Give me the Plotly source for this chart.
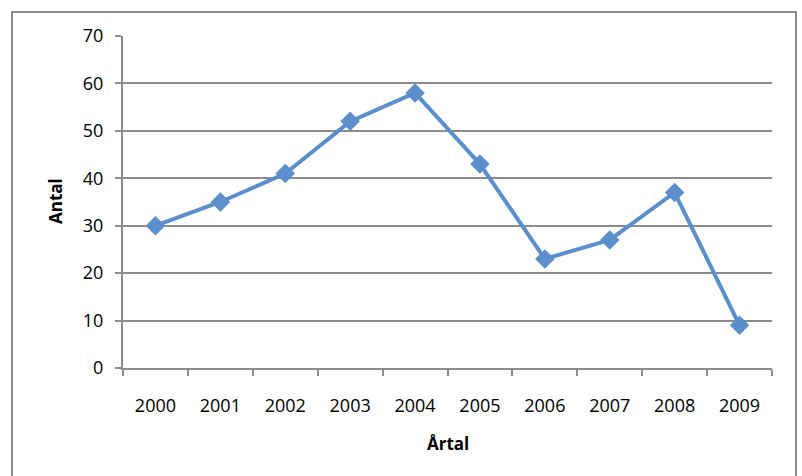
import plotly.graph_objects as go

years = ["2000", "2001", "2002", "2003", "2004", "2005", "2006", "2007", "2008", "2009"]
antal = [30, 35, 41, 52, 58, 43, 23, 27, 37, 9]
y_ticks = [0, 10, 20, 30, 40, 50, 60, 70]

L, R, T, B = 123, 30, 36, 108
W, H = 802, 476
pw, ph = W - L - R, H - T - B

def px_x(p):
    return (p - L) / pw

def px_y(p):
    return (H - B - p) / ph

fig = go.Figure()
fig.add_trace(go.Scatter(
    x=years, y=antal, mode="lines+markers",
    line=dict(color="#5A8FCB", width=4),
    marker=dict(symbol="diamond", size=15, color="#5A8FCB"),
    showlegend=False,
))

grid = "#8C8C8C"
fig.update_layout(
    width=W, height=H,
    margin=dict(l=L, r=R, t=T, b=B),
    paper_bgcolor="white", plot_bgcolor="white",
    font=dict(family="Open Sans, Liberation Sans, sans-serif", size=18, color="black"),
    xaxis=dict(
        type="category", range=[-0.5, 9.5], tickson="boundaries",
        showgrid=False, showline=True, linecolor=grid, linewidth=2,
        ticks="outside", ticklen=6, tickcolor=grid, tickwidth=2,
        ticklabelstandoff=20, fixedrange=True,
    ),
    yaxis=dict(
        range=[0, 70], tickvals=y_ticks, showgrid=True, gridcolor=grid, gridwidth=2,
        showline=True, linecolor=grid, linewidth=2, zeroline=False,
        ticks="outside", ticklen=6, tickcolor=grid, tickwidth=2,
        ticklabelstandoff=8, fixedrange=True,
    ),
    shapes=[dict(
        type="rect", xref="paper", yref="paper",
        x0=px_x(12), x1=px_x(796), y0=px_y(490), y1=px_y(12),
        line=dict(color="#8C8C8C", width=2), fillcolor="rgba(0,0,0,0)", layer="below",
    )],
    annotations=[
        dict(text="<b>Årtal</b>", xref="paper", yref="paper", x=px_x(448), y=px_y(443),
             showarrow=False, font=dict(size=17), xanchor="center", yanchor="middle"),
        dict(text="<b>Antal</b>", xref="paper", yref="paper", x=px_x(55), y=px_y(201),
             showarrow=False, font=dict(size=17), textangle=-90, xanchor="center", yanchor="middle"),
    ],
)

fig.write_html("out.html", config={"displayModeBar": False},
               post_script="document.body.style.margin='0';document.body.style.overflow='hidden';")
